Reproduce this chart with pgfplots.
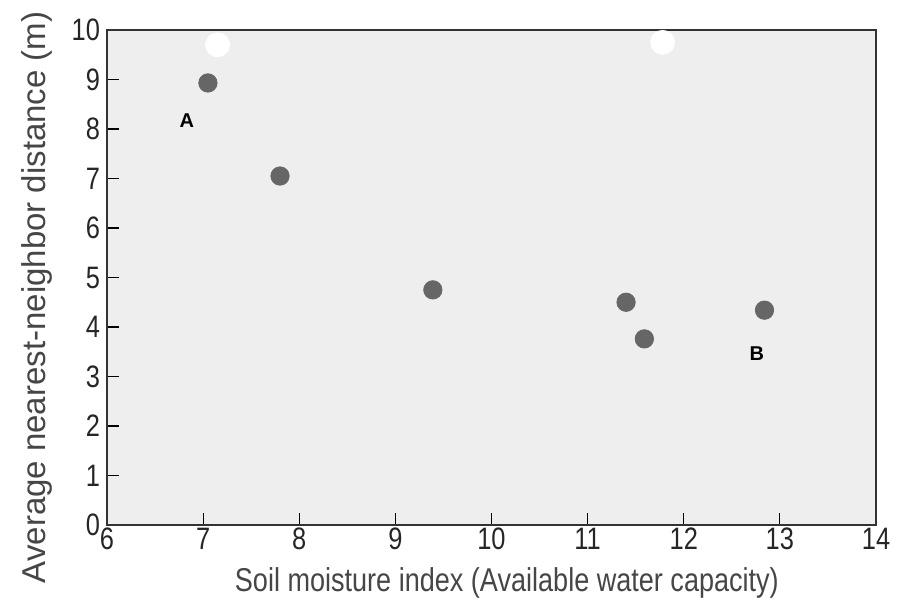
\documentclass[border=0pt]{standalone}
\usepackage{fontspec}
\setmainfont{Liberation Sans}
\newfontfamily\narrowfont{Liberation Sans}[FakeStretch=0.82]
\usepackage{pgfplots}
\pgfplotsset{compat=1.18}

\definecolor{bggray}{RGB}{238,238,238}
\definecolor{dotgray}{RGB}{102,102,102}
\definecolor{labelgray}{RGB}{70,70,70}

\begin{document}
\begin{tikzpicture}
% fixed picture size: 909x604 px at 0.5pt per px
\useasboundingbox (-53.5pt,-39.5pt) rectangle (401pt,262.5pt);
\begin{axis}[
    scale only axis,
    width=384.5pt,
    height=247.5pt,
    xmin=6, xmax=14,
    ymin=0, ymax=10,
    xtick={6,7,...,14},
    ytick={0,1,...,10},
    axis background/.style={fill=bggray},
    axis line style={black!80, line width=0.6pt},
    tick style={black, line width=0.6pt},
    tick align=inside,
    major tick length=6pt,
    xtick pos=lower,
    ytick pos=left,
    /pgf/number format/assume math mode=true,
    ticklabel style={font=\narrowfont\fontsize{15.5}{16}\selectfont, text=black!85},
    xticklabel style={yshift=2pt},
    xlabel={Soil moisture index (Available water capacity)},
    ylabel={Average nearest-neighbor distance (m)},
    xlabel style={font=\narrowfont\fontsize{16.5}{18}\selectfont, text=labelgray,
        at={(axis description cs:0.52,-0.117)}, anchor=center},
    ylabel style={font=\fontsize{16.5}{18}\selectfont, text=labelgray,
        at={(axis description cs:-0.091,0.46)}, anchor=center},
    clip=false,
]

% scan artefacts (white blobs near the top)
\addplot[white, only marks, mark=*, mark size=6pt, mark options={fill=white, draw=white}]
    coordinates {
    (7.15, 9.7)
    (11.78, 9.75)
    };

% data points
\addplot[dotgray, only marks, mark=*, mark size=4.6pt, mark options={fill=dotgray, draw=dotgray}]
    coordinates {
    (7.05, 8.93)
    (7.80, 7.05)
    (9.39, 4.75)
    (11.40, 4.50)
    (11.59, 3.76)
    (12.84, 4.34)
    };

\node[font=\bfseries\fontsize{10}{12}\selectfont] at (axis cs:6.83,8.16) {A};
\node[font=\bfseries\fontsize{10}{12}\selectfont] at (axis cs:12.76,3.47) {B};

\end{axis}
\end{tikzpicture}
\end{document}
